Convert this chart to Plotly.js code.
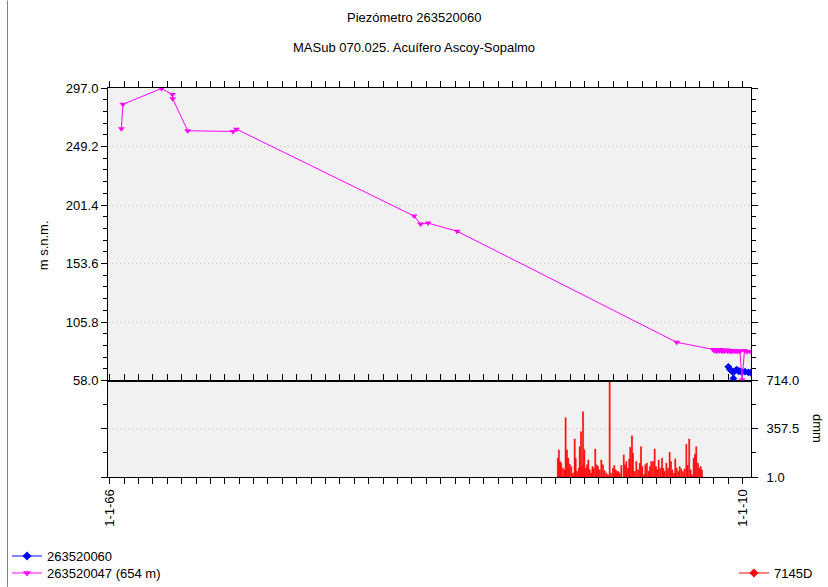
<!DOCTYPE html>
<html>
<head>
<meta charset="utf-8">
<script src="https://cdn.plot.ly/plotly-3.0.1.min.js"></script>
<style>html,body{margin:0;padding:0;background:#fff;}#chart{width:828px;height:587px;}</style>
</head>
<body>
<div id="chart"></div>
<script>
// ---- data (decimal years / values) ----
const titleMain = 'Piezómetro 263520060';
const titleSub = 'MASub 070.025. Acuífero Ascoy-Sopalmo';
const yTitleTop = 'm s.n.m.';
const yTitleBottom = 'dmm';

// 263520047 (654 m) - magenta
const s47Years = [1966.81, 1966.92, 1969.60, 1970.36, 1970.38, 1971.42, 1974.57, 1974.81,
  1987.16, 1987.61, 1988.13, 1990.15, 2005.41,
  2007.95, 2008.03, 2008.12, 2008.20, 2008.28, 2008.37, 2008.45, 2008.53, 2008.62, 2008.70,
  2008.78, 2008.87, 2008.95, 2009.03, 2009.12, 2009.20, 2009.28, 2009.37, 2009.45, 2009.53,
  2009.62, 2009.70, 2009.80, 2009.96, 2010.12, 2010.30, 2010.50];
const s47Values = [263.7, 283.7, 296.6, 291.7, 288.2, 262.1, 261.5, 263.4,
  192.4, 185.9, 186.7, 180.0, 89.3,
  83.5, 82.5, 83.2, 82.0, 83.0, 82.4, 83.4, 82.1, 82.8, 81.9,
  82.6, 83.1, 82.2, 82.9, 81.8, 82.5, 82.0, 82.7, 81.9, 82.4,
  82.0, 82.3, 81.8, 58.5, 82.6, 81.6, 81.8];

// 263520060 - blue
const s60Years = [2009.00, 2009.12, 2009.24, 2009.35, 2009.42, 2009.58, 2009.70, 2009.81, 2009.95, 2010.16, 2010.39, 2010.55];
const s60Values = [69.3, 67.0, 65.8, 59.8, 65.6, 67.0, 65.8, 65.8, 65.0, 65.3, 64.8, 64.6];

// 7145D precipitation (dmm) - red bars
const rainYears = [1997.15,1997.22,1997.31,1997.38,1997.50,1997.62,1997.69,1997.78,1997.87,1997.97,
  1998.08,1998.20,1998.32,1998.39,1998.48,1998.60,1998.67,1998.76,1998.85,1998.90,1998.99,
  1999.09,1999.18,1999.27,1999.37,1999.46,1999.55,1999.64,1999.75,1999.85,1999.94,
  2000.06,2000.17,2000.29,2000.40,2000.52,2000.63,2000.75,2000.86,2000.98,
  2001.07,2001.17,2001.26,2001.35,2001.45,2001.56,2001.73,2001.82,2001.91,
  2002.02,2002.11,2002.18,2002.30,2002.37,2002.49,2002.60,2002.72,2002.84,2002.93,
  2003.02,2003.14,2003.23,2003.34,2003.46,2003.55,2003.64,2003.76,2003.88,2003.97,
  2004.06,2004.16,2004.27,2004.39,2004.48,2004.57,2004.69,2004.80,2004.92,
  2005.01,2005.10,2005.22,2005.31,2005.41,2005.52,2005.62,2005.73,2005.85,2005.96,
  2006.08,2006.17,2006.28,2006.38,2006.47,2006.59,2006.68,2006.77,2006.89,2006.98,
  2007.08,2007.17];
const rainValues = [140,201,115,103,66,54,439,201,140,96,
  78,29,282,140,42,66,225,336,78,483,201,
  66,91,127,54,29,78,66,208,91,78,
  54,127,91,47,29,17,714,29,66,
  86,54,42,42,29,86,164,91,115,
  66,135,220,306,176,42,115,54,103,225,
  78,17,91,103,42,78,115,115,208,78,
  54,127,66,140,66,42,103,66,184,
  115,54,29,135,66,42,78,61,42,61,
  243,86,282,54,17,140,169,225,103,66,
  78,51];

// axes
const xRangeYears = [1965.88, 2010.575];
const xTickYears = [1966,1967,1968,1969,1970,1971,1972,1973,1974,1975,1976,1977,1978,1979,1980,
  1981,1982,1983,1984,1985,1986,1987,1988,1989,1990,1991,1992,1993,1994,1995,1996,1997,1998,
  1999,2000,2001,2002,2003,2004,2005,2006,2007,2008,2009,2010];
const xTickLabelMap = {1966: '1-1-66', 2010: '1-1-10'};
const yTopTicks = [58.0, 105.8, 153.6, 201.4, 249.2, 297.0];
const yBotTicks = [1.0, 357.5, 714.0];

// ---- helpers ----
function dy(y){
  const yr = Math.floor(y);
  const s = Date.UTC(yr,0,1), e = Date.UTC(yr+1,0,1);
  const d = new Date(s + (y-yr)*(e-s));
  return d.toISOString().slice(0,19).replace('T',' ');
}
const FONT = 'Liberation Sans, Arial, sans-serif';
const xr = xRangeYears.map(dy);
// legend-only proxies: one point placed far below the visible range so nothing is drawn
const offX = [xr[0]], offY = [-1e9];

const traces = [
  {type:'bar', x:rainYears.map(dy), y:rainValues, xaxis:'x', yaxis:'y2', width:2.2e9,
   marker:{color:'#ff0000', line:{width:0.6, color:'#ff0000'}}, showlegend:false},
  {type:'scatter', mode:'lines+markers', x:s60Years.map(dy), y:s60Values, xaxis:'x2', yaxis:'y',
   line:{color:'#0000ff', width:1}, marker:{symbol:'diamond', size:6, color:'#0000ff'}, showlegend:false},
  {type:'scatter', mode:'lines+markers', x:s47Years.map(dy), y:s47Values, xaxis:'x2', yaxis:'y',
   line:{color:'#ff00ff', width:1}, marker:{symbol:'triangle-down', size:6, color:'#ff00ff'}, showlegend:false},
  // legend entries
  {type:'scatter', mode:'lines+markers', x:offX, y:offY, name:'263520060', xaxis:'x2', yaxis:'y', legend:'legend',
   line:{color:'rgba(0,0,255,0.5)', width:2}, marker:{symbol:'diamond', size:7, color:'#0000ff'}},
  {type:'scatter', mode:'lines+markers', x:offX, y:offY, name:'263520047 (654 m)', xaxis:'x2', yaxis:'y', legend:'legend3',
   line:{color:'rgba(255,0,255,0.5)', width:2}, marker:{symbol:'triangle-down', size:7, color:'#ff00ff'}},
  {type:'scatter', mode:'lines+markers', x:offX, y:offY, name:'7145D', xaxis:'x', yaxis:'y2', legend:'legend2',
   line:{color:'rgba(255,0,0,0.5)', width:2}, marker:{symbol:'diamond', size:7, color:'#ff0000'}}
];

const W = 828, H = 587, L = 108, R = 77, T = 87.5, B = 110;
const plotH = H - T - B, plotW = W - L - R;
const split = (477 - 380.5) / plotH;

const xTickVals = xTickYears.map(y => dy(y));
const xTickText = xTickYears.map(y => xTickLabelMap[y] || '');

const axFont = {family: FONT, size: 13, color: '#000'};
const gridCol = '#c4c4c4', gridDash = '1px,3px';
const legFont = {family:FONT, size:13, color:'#000'};

const layout = {
  width: W, height: H,
  margin: {l: L, r: R, t: T, b: B, pad: 0, autoexpand: false},
  paper_bgcolor: '#ffffff',
  plot_bgcolor: '#f1f1f1',
  font: {family: FONT, size: 13, color: '#000'},
  xaxis: {type:'date', range: xr, anchor:'y2', domain:[0,1], automargin:false,
    tickmode:'array', tickvals: xTickVals, ticktext: xTickText, tickangle: -90,
    ticks:'outside', ticklen:6, tickcolor:'#000', showline:true, linecolor:'#000', linewidth:1,
    mirror:'ticks', showgrid:false, zeroline:false, tickfont: axFont},
  xaxis2: {type:'date', range: xr, anchor:'y', matches:'x', side:'top', automargin:false,
    tickmode:'array', tickvals: xTickVals, showticklabels:false,
    ticks:'outside', ticklen:6, tickcolor:'#000', showline:true, linecolor:'#000', linewidth:1,
    mirror:true, showgrid:false, zeroline:false},
  yaxis: {domain:[split, 1], range:[58, 297], anchor:'x2', automargin:false,
    tickmode:'array', tickvals: yTopTicks, tickformat:'.1f',
    ticks:'outside', ticklen:6, tickcolor:'#000', showline:true, linecolor:'#000', linewidth:1, mirror:'ticks',
    minor:{tick0:58, dtick:9.56, ticks:'outside', ticklen:4, tickcolor:'#000', showgrid:false},
    showgrid:true, gridcolor:gridCol, griddash:gridDash, gridwidth:1, zeroline:false,
    tickfont: axFont},
  yaxis2: {domain:[0, split], range:[1, 714], anchor:'x', side:'right', automargin:false,
    tickmode:'array', tickvals: yBotTicks, tickformat:'.1f',
    ticks:'outside', ticklen:6, tickcolor:'#000', showline:true, linecolor:'#000', linewidth:1, mirror:'ticks',
    minor:{tick0:1, dtick:178.25, ticks:'outside', ticklen:4, tickcolor:'#000', showgrid:false},
    showgrid:true, gridcolor:gridCol, griddash:gridDash, gridwidth:1, zeroline:false,
    tickfont: axFont, ticklabelstandoff: 6},
  legend: {xref:'container', yref:'container', x: 7/W, y: (H-556)/H, xanchor:'left', yanchor:'middle',
    bgcolor:'rgba(0,0,0,0)', font:legFont},
  legend3: {xref:'container', yref:'container', x: 7/W, y: (H-573)/H, xanchor:'left', yanchor:'middle',
    bgcolor:'rgba(0,0,0,0)', font:legFont},
  legend2: {xref:'container', yref:'container', x: 734/W, y: (H-573)/H, xanchor:'left', yanchor:'middle',
    bgcolor:'rgba(0,0,0,0)', font:legFont},
  annotations: [
    {text: titleMain, xref:'paper', yref:'paper', x: (414-L)/plotW, y: 1 + (T-17)/plotH,
     showarrow:false, xanchor:'center', yanchor:'middle', font:{family:FONT, size:13, color:'#000'}},
    {text: titleSub, xref:'paper', yref:'paper', x: (414-L)/plotW, y: 1 + (T-47)/plotH,
     showarrow:false, xanchor:'center', yanchor:'middle', font:{family:FONT, size:13, color:'#000'}},
    {text: yTitleTop, xref:'paper', yref:'paper', x: (43-L)/plotW, y: (477-245)/plotH,
     showarrow:false, xanchor:'center', yanchor:'middle', textangle:-90, font:{family:FONT, size:13, color:'#000'}},
    {text: yTitleBottom, xref:'paper', yref:'paper', x: 1 + (818-(W-R))/plotW, y: (477-428)/plotH,
     showarrow:false, xanchor:'center', yanchor:'middle', textangle:90, font:{family:FONT, size:13, color:'#000'}}
  ],
  shapes: [
    {type:'line', xref:'paper', yref:'paper', x0:(7.5-L)/plotW, x1:(7.5-L)/plotW,
     y0: -B/plotH, y1: 1 + T/plotH, line:{color:'#808080', width:1}}
  ]
};

Plotly.newPlot('chart', traces, layout, {displayModeBar:false, staticPlot:true});
</script>
</body>
</html>
